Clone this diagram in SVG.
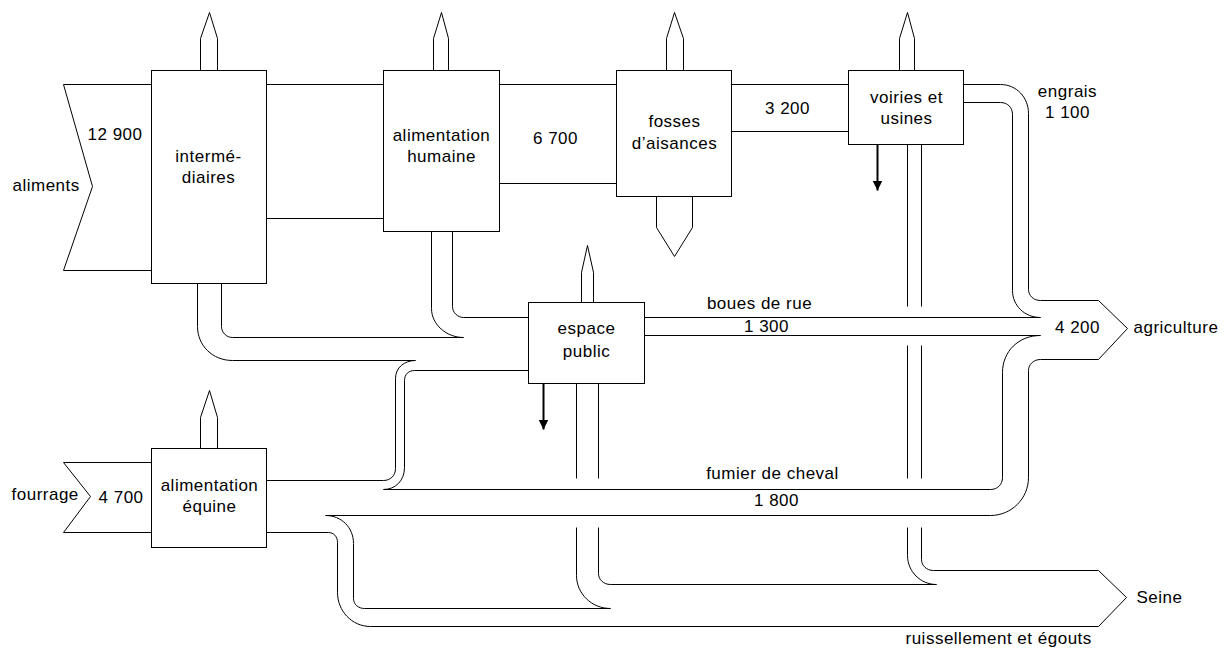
<svg xmlns="http://www.w3.org/2000/svg" width="1232" height="649" viewBox="0 0 1232 649">
<style>
.box{fill:#fff;stroke:#000;stroke-width:1}
.ln{fill:none;stroke:#000;stroke-width:1}
.up{fill:#fff;stroke:#000;stroke-width:1}
.blk{fill:none;stroke:#000;stroke-width:2}
text{font-family:"Liberation Sans",Arial,sans-serif;font-size:17px;letter-spacing:0.5px;fill:#000}
.c{text-anchor:middle}
</style>
<defs>
<marker id="ah" markerUnits="userSpaceOnUse" markerWidth="12" markerHeight="12" refX="10" refY="6" orient="auto" viewBox="0 0 12 12">
<path d="M0,1 L10,6 L0,11 Z" fill="#000"/>
</marker>
</defs>
<rect width="1232" height="649" fill="#fff"/>
<g transform="translate(0.5,0.5)">
<g id="connectors">
<path class="ln" d="M266,84 H383 M266,218 H383"/>
<path class="ln" d="M499,84 H616 M499,183 H616"/>
<path class="ln" d="M731,84 H848 M731,131 H848"/>
<path class="ln" d="M963,84 H1000 C1016,84 1028,97 1028,113 V289 C1028,295 1033,300 1040,300 H1098"/>
<path class="ln" d="M963,102 H1000 C1007,102 1012,107 1012,114 V290 C1012,305 1024,317 1040,317"/>
<path class="ln" d="M644,317 H1040 M644,335 H1040"/>
<path class="ln" d="M383,489 H990 C997,489 1002,484 1002,477 V372 C1002,351 1018,335 1040,335"/>
<path class="ln" d="M325,515 H990 C1011,515 1028,498 1028,477 V370 C1028,364 1033,359 1040,359 H1098"/>
<path class="ln" d="M221,283 V326 C221,332 226,337 232,337 H463 M197,283 V326 C197,345 212,360 232,360 H415"/>
<path class="ln" d="M452,231 V306 C452,312 457,317 463,317 H528 M431,231 V308 C431,324 446,337 463,337"/>
<path class="ln" d="M266,480 H383 C390,480 395,475 395,468 V378 C395,367 404,360 415,360 M383,489 C395,489 404,480 404,467 V380 C404,374 408,370 414,370 H528"/>
<path class="ln" d="M576,383 V478 M576,527 V575 C576,593 591,608 610,608 M598,383 V478 M598,527 V573 C598,579 603,584 610,584 H936"/>
<path class="ln" d="M907,144 V306 M907,345 V478 M907,527 V555 C907,571 920,584 936,584 M921,144 V306 M921,345 V478 M921,527 V559 C921,565 926,570 933,570 H1098"/>
<path class="ln" d="M266,532 H328 C333,532 337,536 337,542 V592 C337,610 351,626 370,626 H1098 M325,515 C341,515 353,527 353,543 V598 C353,604 358,608 364,608 H610"/>
<path class="blk" d="M877,144 V190" marker-end="url(#ah)"/>
<path class="blk" d="M543,383 V429" marker-end="url(#ah)"/>
<text x="87" y="139">12 900</text>
<text class="c" x="555" y="143">6 700</text>
<text class="c" x="787" y="113">3 200</text>
<text class="c" x="1067" y="96">engrais</text>
<text class="c" x="1067" y="117">1 100</text>
<text class="c" x="759" y="308">boues de rue</text>
<text class="c" x="766" y="331">1 300</text>
<text class="c" x="772" y="478">fumier de cheval</text>
<text class="c" x="776" y="505">1 800</text>
<text x="98" y="502">4 700</text>
<text x="905" y="643">ruissellement et égouts</text>
</g>
<g id="aliments">
<path class="ln" d="M151,84 H63 L92,186 L63,270 H151"/>
<text x="12" y="190">aliments</text>
</g>
<g id="fourrage">
<path class="ln" d="M151,462 H63 L90,496 L63,532 H151"/>
<text x="11" y="499">fourrage</text>
</g>
<g id="intermediaires">
<polygon class="up" points="200,70 200,38 209,12 217,38 217,70"/>
<rect class="box" x="151" y="70" width="115" height="213"/>
<text class="c" x="208" y="161">intermé-</text>
<text class="c" x="208" y="182">diaires</text>
</g>
<g id="alimentation-humaine">
<polygon class="up" points="433,70 433,38 441,12 448,38 448,70"/>
<rect class="box" x="383" y="70" width="116" height="161"/>
<text class="c" x="441" y="140">alimentation</text>
<text class="c" x="441" y="161">humaine</text>
</g>
<g id="fosses">
<polygon class="up" points="666,70 666,38 674,12 683,38 683,70"/>
<polygon class="up" points="656,196 656,227 674,256 692,227 692,196"/>
<rect class="box" x="616" y="70" width="115" height="126"/>
<text class="c" x="674" y="126">fosses</text>
<text class="c" x="674" y="148">d’aisances</text>
</g>
<g id="voiries">
<polygon class="up" points="899,70 899,38 907,12 914,38 914,70"/>
<rect class="box" x="848" y="70" width="115" height="74"/>
<text class="c" x="906" y="102">voiries et</text>
<text class="c" x="906" y="123">usines</text>
</g>
<g id="espace-public">
<polygon class="up" points="581,302 581,272 587,245 593,272 593,302"/>
<rect class="box" x="528" y="302" width="116" height="81"/>
<text class="c" x="586" y="333">espace</text>
<text class="c" x="586" y="356">public</text>
</g>
<g id="alimentation-equine">
<polygon class="up" points="200,448 200,417 209,390 217,417 217,448"/>
<rect class="box" x="151" y="448" width="115" height="99"/>
<text class="c" x="209" y="490">alimentation</text>
<text class="c" x="209" y="511">équine</text>
</g>
<g id="agriculture">
<path class="ln" d="M1098,300 L1127,328 L1098,359"/>
<text class="c" x="1077" y="332">4 200</text>
<text x="1133" y="332">agriculture</text>
</g>
<g id="seine">
<path class="ln" d="M1098,570 L1126,597 L1098,626"/>
<text x="1136" y="602">Seine</text>
</g>
</g>
</svg>
